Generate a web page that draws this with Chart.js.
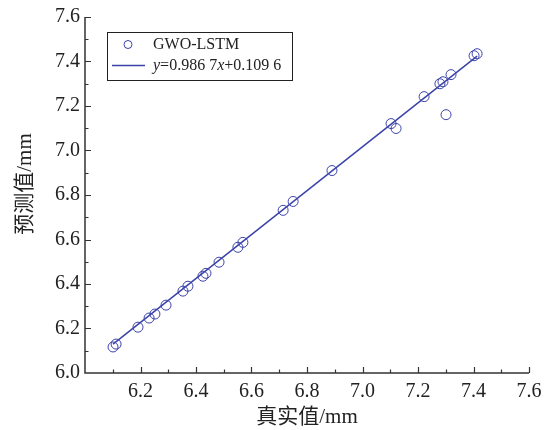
<!DOCTYPE html>
<html>
<head>
<meta charset="utf-8">
<script src="https://cdn.jsdelivr.net/npm/chart.js@4/dist/chart.umd.min.js"></script>
<style>
html, body { margin: 0; padding: 0; background: #fff; }
</style>
</head>
<body>
<canvas id="graph_pred" width="554" height="430"></canvas>
<script>
// valores reales y predichos (mm)
var valor_real = [6.101, 6.112, 6.191, 6.231, 6.252, 6.292, 6.353, 6.371, 6.425, 6.436,
                  6.483, 6.551, 6.569, 6.714, 6.750, 6.890, 7.103, 7.121, 7.222, 7.301,
                  7.279, 7.290, 7.319, 7.402, 7.413];
var valor_pred = [6.117, 6.130, 6.206, 6.247, 6.265, 6.305, 6.368, 6.390, 6.435, 6.448,
                  6.498, 6.565, 6.587, 6.731, 6.771, 6.910, 7.121, 7.099, 7.242, 7.161,
                  7.300, 7.309, 7.341, 7.426, 7.435];
// recta de ajuste y = a x + b
var pendiente = 0.9867;
var intercepto = 0.1096;
var eje_min = 6.0, eje_max = 7.6, paso = 0.2;
var titulo_x = '真实值/mm';
var titulo_y = '预测值/mm';

const azul = '#3b43a8';
const fuente = '"Liberation Serif", "Noto Sans CJK SC", serif';

var puntos = valor_real.map(function (x, i) { return {x: x, y: valor_pred[i]}; });
var xmin = Math.min.apply(null, valor_real);
var xmax = Math.max.apply(null, valor_real);
var recta = [xmin, xmax].map(function (x) { return {x: x, y: pendiente * x + intercepto}; });

function etiqueta(v) { return Number(v).toFixed(1); }

// ejes con marcas hacia dentro (mayores cada 0.2, menores cada 0.1)
var ejes = {
    id: 'ejes',
    afterDatasetsDraw: function (chart) {
        var ctx = chart.ctx, a = chart.chartArea;
        var sx = chart.scales.x, sy = chart.scales.y;
        ctx.save();
        ctx.strokeStyle = '#333';
        ctx.lineWidth = 1.5;
        ctx.beginPath();
        ctx.moveTo(a.left, a.top);
        ctx.lineTo(a.left, a.bottom);
        ctx.lineTo(a.right, a.bottom);
        ctx.stroke();
        ctx.lineWidth = 1.2;
        ctx.beginPath();
        for (var i = 1; i <= 16; i++) {
            var v = eje_min + i / 10;
            var len = (i % 2 == 0) ? 6 : 3.5;
            var px = Math.round(sx.getPixelForValue(v)) + 0.5;
            ctx.moveTo(px, a.bottom);
            ctx.lineTo(px, a.bottom - len);
            var py = Math.round(sy.getPixelForValue(v)) + 0.5;
            ctx.moveTo(a.left, py);
            ctx.lineTo(a.left + len, py);
        }
        ctx.stroke();
        // titulo del eje y, girado
        ctx.fillStyle = '#222';
        ctx.font = '21px ' + fuente;
        ctx.textAlign = 'center';
        ctx.textBaseline = 'middle';
        ctx.translate(25, 184);
        ctx.rotate(-Math.PI / 2);
        ctx.fillText(titulo_y, 0, 0);
        ctx.restore();
    }
};

// leyenda dibujada dentro del area
var leyenda = {
    id: 'leyenda',
    afterDraw: function (chart) {
        var ctx = chart.ctx;
        ctx.save();
        ctx.strokeStyle = '#222';
        ctx.lineWidth = 1;
        ctx.strokeRect(107.5, 32.5, 185, 48);
        ctx.strokeStyle = azul;
        ctx.beginPath();
        ctx.arc(128, 44.5, 4, 0, 2 * Math.PI);
        ctx.stroke();
        ctx.lineWidth = 1.5;
        ctx.beginPath();
        ctx.moveTo(112, 65.5);
        ctx.lineTo(145, 65.5);
        ctx.stroke();
        ctx.fillStyle = '#222';
        ctx.textBaseline = 'middle';
        ctx.font = '16px ' + fuente;
        ctx.fillText('GWO-LSTM', 153, 45);
        var partes = [['y', true], ['=0.986 7', false], ['x', true], ['+0.109 6', false]];
        var x = 153;
        partes.forEach(function (p) {
            ctx.font = (p[1] ? 'italic ' : '') + '16px ' + fuente;
            ctx.fillText(p[0], x, 66);
            x += ctx.measureText(p[0]).width;
        });
        ctx.restore();
    }
};

var grafico = new Chart(document.getElementById('graph_pred').getContext('2d'), {
    type: 'scatter',
    data: {
        datasets: [
            {label: 'GWO-LSTM', data: puntos, borderColor: azul, backgroundColor: 'rgba(0,0,0,0)',
             borderWidth: 1, pointRadius: 5, pointHoverRadius: 5},
            {type: 'line', label: 'ajuste', data: recta, borderColor: azul, borderWidth: 1.5,
             pointRadius: 0, fill: false}
        ]
    },
    options: {
        responsive: false,
        animation: false,
        devicePixelRatio: 1,
        layout: {padding: {top: 16, right: 25, left: 0, bottom: 0}},
        plugins: {legend: {display: false}, tooltip: {enabled: false}},
        scales: {
            x: {
                type: 'linear', min: eje_min, max: eje_max,
                grid: {display: false, drawTicks: false}, border: {display: false},
                ticks: {stepSize: paso, color: '#222', padding: 7, maxRotation: 0,
                        font: {family: fuente, size: 20},
                        callback: function (v) { return Math.abs(v - eje_min) < 1e-6 ? '' : etiqueta(v); }},
                title: {display: true, text: titulo_x, color: '#222', padding: {top: 0, bottom: 0},
                        font: {family: fuente, size: 21}},
                afterFit: function (s) { s.height = 57; }
            },
            y: {
                type: 'linear', min: eje_min, max: eje_max,
                grid: {display: false, drawTicks: false}, border: {display: false},
                ticks: {stepSize: paso, color: '#222', padding: 5,
                        font: {family: fuente, size: 20},
                        callback: function (v) { return etiqueta(v); }},
                afterFit: function (s) { s.width = 85; }
            }
        }
    },
    plugins: [ejes, leyenda]
});
</script>
</body>
</html>
